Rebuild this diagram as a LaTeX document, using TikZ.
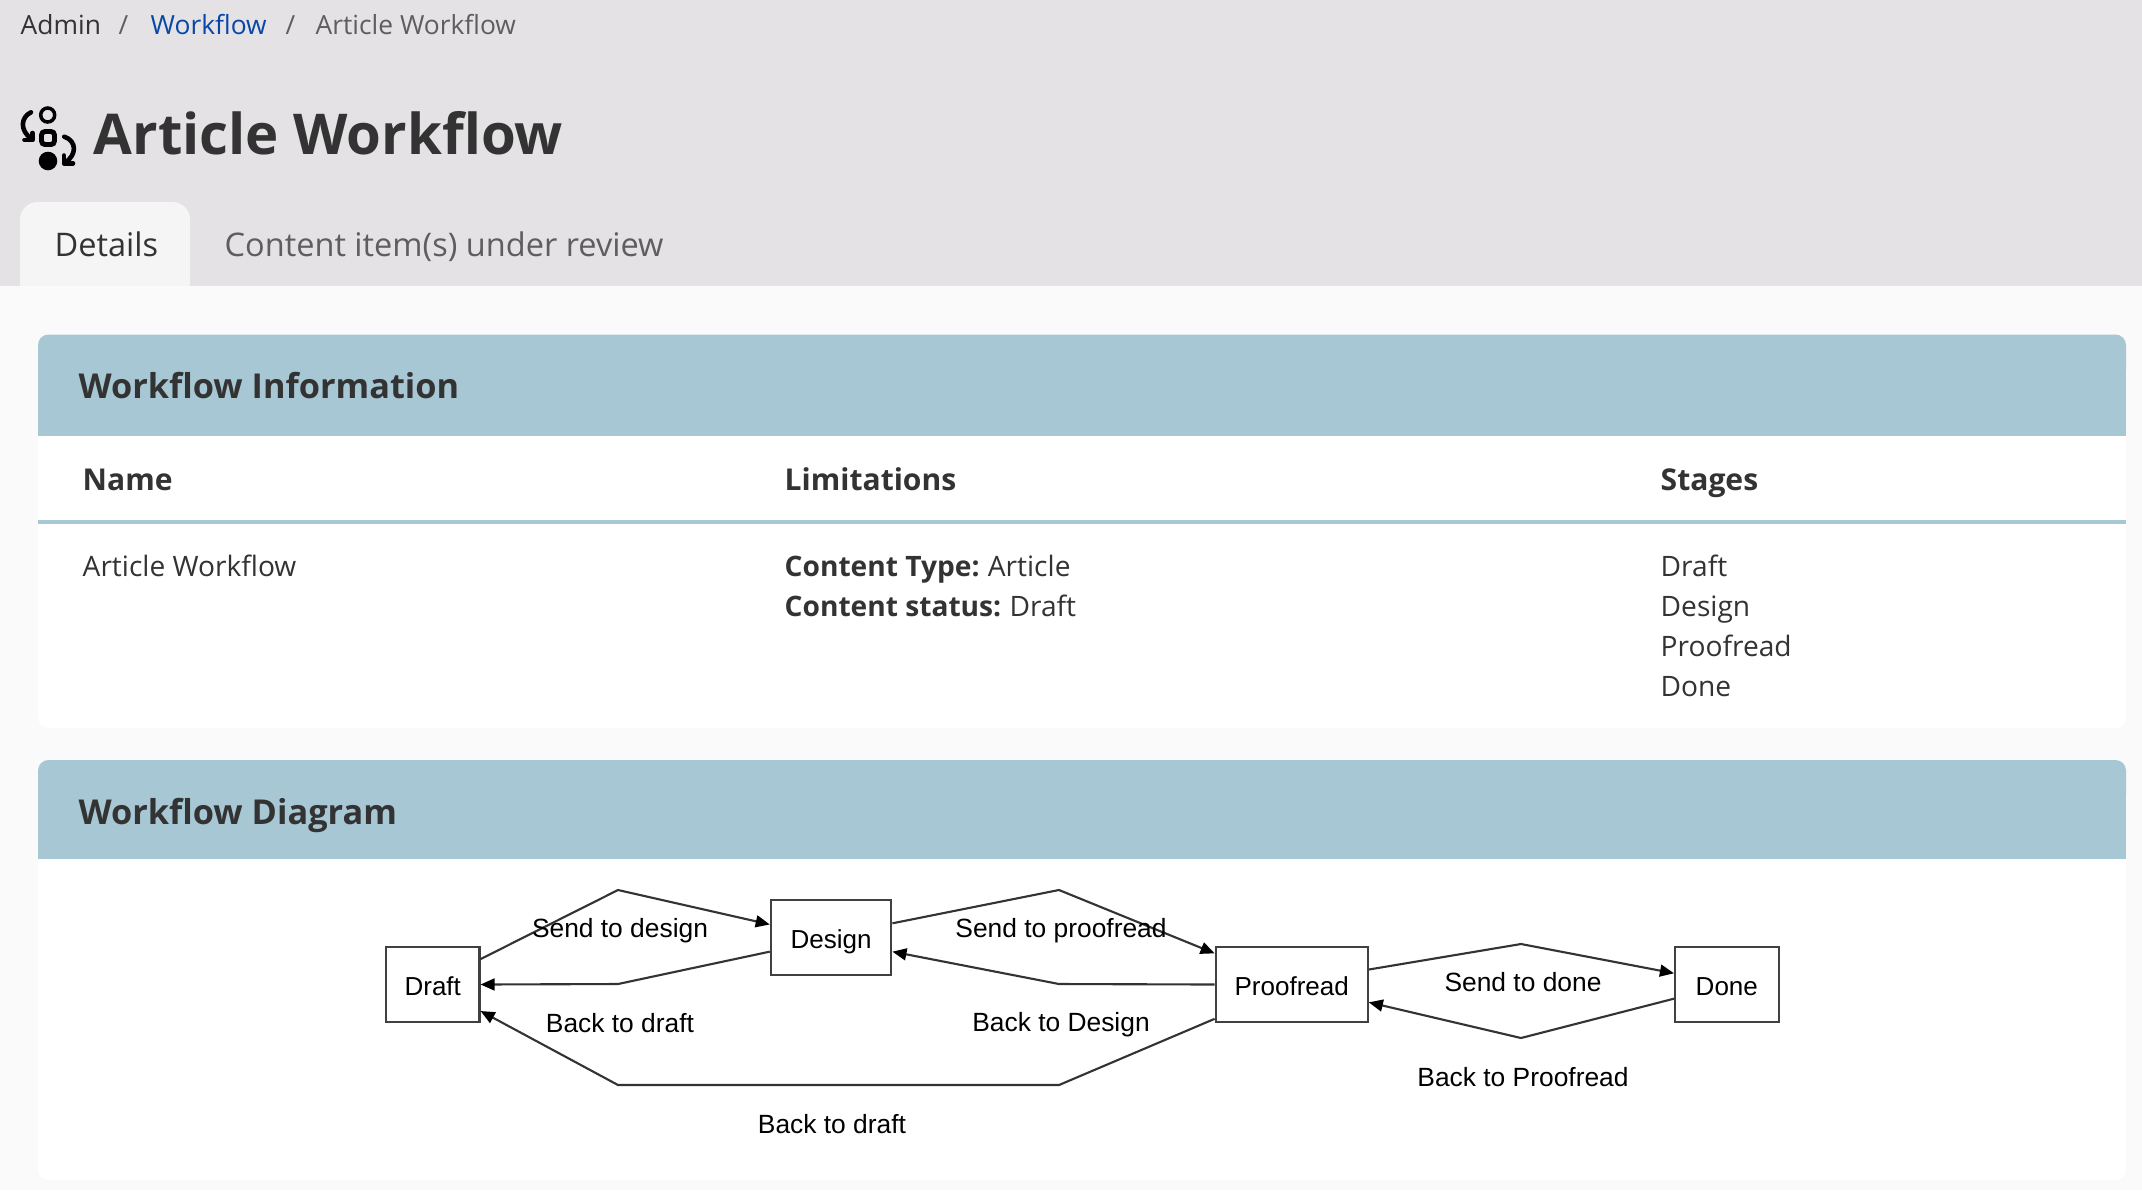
\documentclass[tikz,border=0pt]{standalone}
\usepackage{fontspec}
\usepackage{xcolor}
\usetikzlibrary{arrows.meta, positioning}
\setmainfont{Open Sans}
\newfontfamily\flowfont{Liberation Sans}
\definecolor{bandgray}{HTML}{E4E2E4}
\definecolor{pagegray}{HTML}{FAFAFA}
\definecolor{tabgray}{HTML}{F5F5F5}
\definecolor{headblue}{HTML}{A7C7D5}
\definecolor{inkdark}{HTML}{333333}
\definecolor{inkmuted}{HTML}{5E5E5E}
\definecolor{linkblue}{HTML}{0747A6}

\begin{document}
\begin{tikzpicture}[
    x=0.01cm, y=-0.01cm,
    crumb/.style={anchor=base west, inner sep=0pt, font=\fontsize{7.5}{10}\selectfont},
    pagetitle/.style={anchor=base west, inner sep=0pt, text=inkdark, font=\fontsize{16}{20}\selectfont\bfseries},
    tabtext/.style={anchor=base west, inner sep=0pt, font=\fontsize{9.25}{11}\selectfont},
    cardhead/.style={anchor=base west, inner sep=0pt, text=inkdark, font=\fontsize{9.75}{12}\selectfont\bfseries},
    colhead/.style={anchor=base west, inner sep=0pt, text=inkdark, font=\fontsize{8.55}{11}\selectfont\bfseries},
    cell/.style={anchor=base west, inner sep=0pt, text=inkdark, font=\fontsize{8}{11.38}\selectfont},
    stagebox/.style={rectangle, draw=black!75, line width=0.6pt, minimum height=0.75cm, inner sep=0pt, text height=6.2pt, text depth=0pt, font=\flowfont\fontsize{7.4}{9}\selectfont},
    flowlabel/.style={inner sep=0pt, font=\flowfont\fontsize{7.5}{9}\selectfont},
    arrow/.style={-{Triangle[length=4pt, width=3.4pt, color=black]}, line width=0.6pt, draw=black!80},
    iconline/.style={line width=1.3pt, line cap=round, line join=round}
]
\useasboundingbox (0,0) rectangle (2142,1190);

\fill[pagegray] (0,0) rectangle (2142,1190);
\fill[bandgray] (0,0) rectangle (2142,286);
\fill[tabgray, rounded corners=5pt] (20,202) rectangle (190,300);
\fill[pagegray] (0,286) rectangle (2142,310);

\node[crumb, text=inkdark] (admin) at (20,34) {Admin};
\node[crumb, text=inkmuted] (sepone) at (118,34) {/};
\node[crumb, text=linkblue] (workflow) at (150,34) {Workflow};
\node[crumb, text=inkmuted] (septwo) at (285,34) {/};
\node[crumb, text=inkmuted] (current) at (315,34) {Article Workflow};

\draw[line width=1pt] (47.7,115) circle (7);
\draw[line width=1.4pt, rounded corners=1pt] (41.5,131.5) rectangle (54.5,144.5);
\fill (48,161) circle (9.3);
\draw[iconline] (31,112.3) .. controls (21,117) and (19,130) .. (32,139.5);
\draw[iconline] (24.5,140) -- (32.5,140) -- (32.5,133);
\draw[iconline] (64.3,136.7) .. controls (77,141) and (77,155) .. (65,162.7);
\draw[iconline] (64,155.5) -- (64,163.3) -- (73,163.3);
\node[pagetitle] (title) at (93,154.5) {Article Workflow};

\node[tabtext, text=inkdark] (details) at (54,256) {Details};
\node[tabtext, text=inkmuted] (review) at (224,256) {Content item(s) under review};

\fill[white, rounded corners=3pt] (38,334.5) rectangle (2126,728);
\fill[headblue, rounded corners=3pt] (38,334.5) rectangle (2126,380);
\fill[headblue] (38,360) rectangle (2126,436);
\fill[headblue] (38,520) rectangle (2126,524);
\node[cardhead] (infohead) at (78,398) {Workflow Information};
\node[colhead] (namehead) at (82,490) {Name};
\node[colhead] (limithead) at (784,490) {Limitations};
\node[colhead] (stagehead) at (1660,490) {Stages};
\node[cell] (namecell) at (82,576.5) {Article Workflow};
\node[cell] (typecell) at (784,576.5) {\textbf{Content Type:}\kern-0.4pt{} Article};
\node[cell] (statuscell) at (784,616.5) {\textbf{Content status:}\kern-0.4pt{} Draft};
\node[cell] (stageone) at (1660,576.5) {Draft};
\node[cell] (stagetwo) at (1660,616.5) {Design};
\node[cell] (stagethree) at (1660,656.5) {Proofread};
\node[cell] (stagefour) at (1660,696.5) {Done};

\fill[white, rounded corners=3pt] (38,760) rectangle (2126,1180);
\fill[headblue, rounded corners=3pt] (38,760) rectangle (2126,805);
\fill[headblue] (38,785) rectangle (2126,859);
\node[cardhead] (diagramhead) at (78,824) {Workflow Diagram};

\node[stagebox, minimum width=0.935cm] (draft) at (432.75,984.5) {Draft};
\node[stagebox, minimum width=1.205cm, right=2.89cm of draft, yshift=0.47cm] (design) {Design};
\node[stagebox, minimum width=1.52cm, right=3.22cm of design, yshift=-0.47cm] (proofread) {Proofread};
\node[stagebox, minimum width=1.035cm, right=3.05cm of proofread] (done) {Done};

\draw[arrow] (draft.28) -- (618,890) -- (design.168);
\draw[arrow] (design.193) -- (618,984) -- (draft.east);
\draw[arrow] (design.13) -- (1059,890) -- (proofread.158);
\draw[arrow] (proofread.west) -- (1059,984) -- (design.-13);
\draw[arrow] (proofread.204) -- (1059,1085) -- (618,1085) -- (draft.-29);
\draw[arrow] (proofread.11) -- (1521,944) -- (done.168);
\draw[arrow] (done.195) -- (1521,1038) -- (proofread.-13);

\node[flowlabel] (sendone) at (620,930.5) {Send to design};
\node[flowlabel] (backone) at (620,1023) {Back to draft};
\node[flowlabel] (sendtwo) at (1061,930.5) {Send to proofread};
\node[flowlabel] (backtwo) at (1061,1025) {Back to Design};
\node[flowlabel] (backthree) at (832,1124) {Back to draft};
\node[flowlabel] (sendthree) at (1523,982) {Send to done};
\node[flowlabel] (backfour) at (1523,1077) {Back to Proofread};

\end{tikzpicture}
\end{document}
